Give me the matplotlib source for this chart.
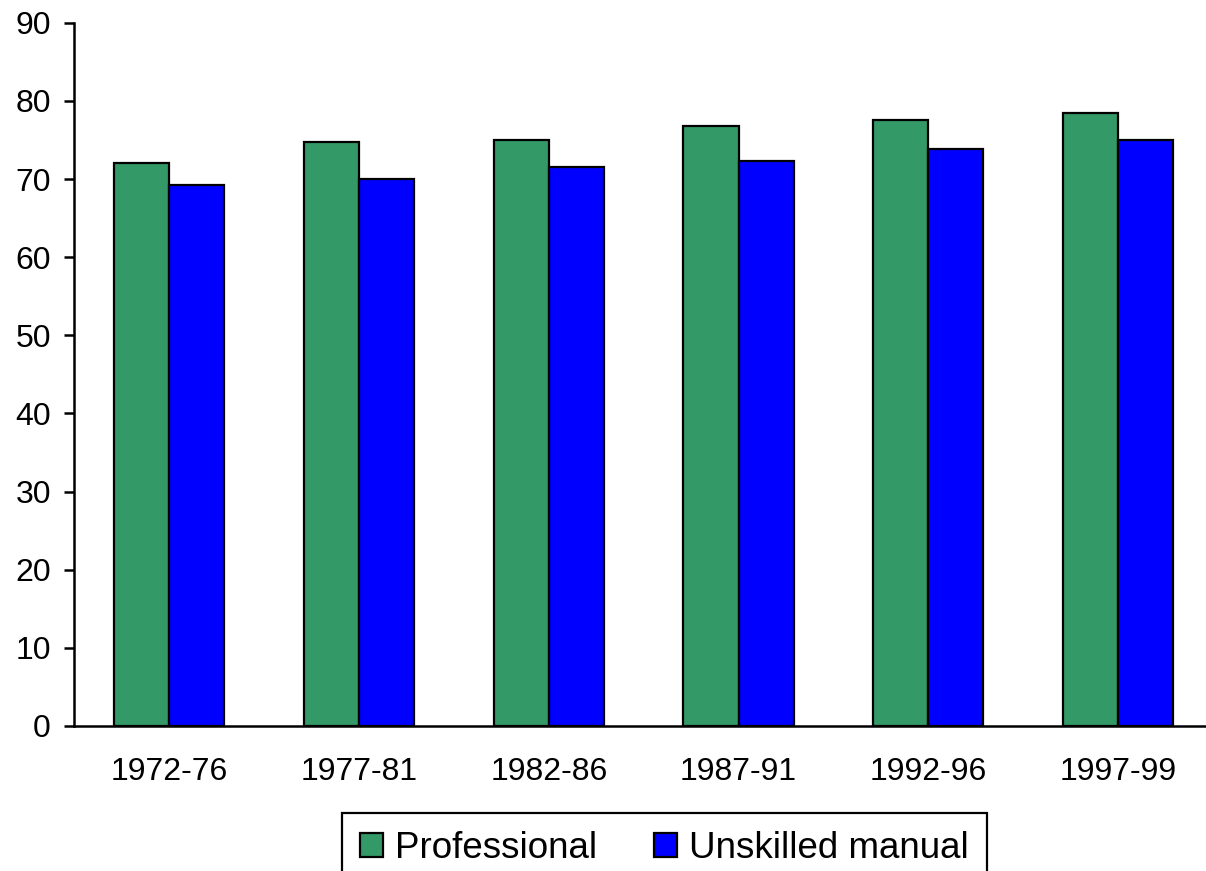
import numpy as np
import matplotlib.pyplot as plt

plt.rcParams['font.family'] = ['Liberation Sans', 'DejaVu Sans']

periods = ['1972-76', '1977-81', '1982-86', '1987-91', '1992-96', '1997-99']
professional = [72.0, 74.8, 75.0, 76.8, 77.5, 78.5]
unskilled = [69.2, 70.0, 71.5, 72.3, 73.8, 75.0]

fig = plt.figure(figsize=(12.06, 8.71), dpi=100)
ax = fig.add_axes([0.0617, 0.1665, 0.944, 0.8074])

x = np.arange(len(periods))
w = 0.29
ax.bar(x - w / 2, professional, w, color='#339966', edgecolor='black',
       linewidth=1.6, label='Professional')
ax.bar(x + w / 2, unskilled, w, color='#0000ff', edgecolor='black',
       linewidth=1.6, label='Unskilled manual')

ax.set_xlim(-0.5, 5.5)
ax.set_ylim(0, 90)
ax.set_yticks(range(0, 91, 10))
ax.set_xticks(x)
ax.set_xticklabels(periods)

for s in ['top', 'right']:
    ax.spines[s].set_visible(False)
for s in ['left', 'bottom']:
    ax.spines[s].set_linewidth(1.8)

ax.tick_params(axis='y', labelsize=23, length=7, width=1.8, pad=10)
ax.tick_params(axis='x', labelsize=23, length=0, pad=22)

leg = fig.legend(loc='upper center', bbox_to_anchor=(0.551, 0.067), ncol=2,
                 fontsize=26.5, frameon=True, fancybox=False, shadow=False,
                 framealpha=1, handlelength=0.62, handleheight=0.62,
                 handletextpad=0.32, columnspacing=1.55, borderpad=0.5,
                 borderaxespad=0)
leg.get_frame().set_edgecolor('black')
leg.get_frame().set_linewidth(1.6)

fig.savefig('out.png', dpi=100)
